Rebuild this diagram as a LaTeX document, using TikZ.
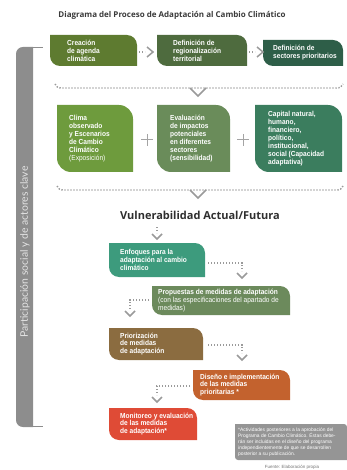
\documentclass[tikz,border=0pt]{standalone}
\usepackage{fontspec}
\setmainfont{Lato}
\newfontfamily\headfont{Open Sans}
\newfontfamily\condfont[FakeStretch=0.9]{Liberation Sans}
\newfontfamily\notefont{Liberation Sans}
\usetikzlibrary{calc}
\definecolor{cOne}{HTML}{5E7B30}
\definecolor{cTwo}{HTML}{4E6B3E}
\definecolor{cThree}{HTML}{2E5E48}
\definecolor{cA}{HTML}{6E9B3D}
\definecolor{cB}{HTML}{6A8C5A}
\definecolor{cC}{HTML}{3B7D5E}
\definecolor{cEnf}{HTML}{3D9B7D}
\definecolor{cProp}{HTML}{6C8A5C}
\definecolor{cPrio}{HTML}{8B6C40}
\definecolor{cDis}{HTML}{C3622E}
\definecolor{cMon}{HTML}{DF4B36}
\definecolor{barg}{HTML}{8D8D8D}
\definecolor{bartext}{HTML}{E4E4E4}
\definecolor{noteg}{HTML}{959595}
\definecolor{dotg}{HTML}{9A9A9A}
\definecolor{titlec}{HTML}{3A3A3A}
\newcommand{\leafbox}[7]{%
  \node[inner sep=0pt, outer sep=0pt, minimum width=#4pt, minimum height=#5pt, anchor=north west] (#1) at (#2,#3) {};
  \fill[#7] (#1.north west) -- ([xshift=-#6pt]#1.north east)
    .. controls ([xshift=-0.45*#6pt]#1.north east) and ([yshift=-0.45*#6pt]#1.north east) .. ([yshift=-#6pt]#1.north east)
    -- (#1.south east) -- ([xshift=#6pt]#1.south west)
    .. controls ([xshift=0.45*#6pt]#1.south west) and ([yshift=0.45*#6pt]#1.south west) .. ([yshift=#6pt]#1.south west)
    -- cycle;}
\tikzset{
  boxt/.style={anchor=west, inner sep=0pt, text=white, font=\condfont\bfseries\fontsize{7.3}{7.9}\selectfont, align=left},
  dotl/.style={draw=dotg, line width=1.4pt, dash pattern=on 1.4pt off 1.6pt},
  chev/.style={draw=dotg, line width=1.5pt, line join=miter},
  plusl/.style={draw=dotg!90, line width=1pt},
}
\begin{document}
\begin{tikzpicture}[x=1pt,y=-1pt]
\useasboundingbox (0,0) rectangle (347,470);
% title
\node[font=\headfont\bfseries\fontsize{8}{9}\selectfont, text=titlec] (title) at (172,15) {Diagrama del Proceso de Adaptación al Cambio Climático};
% side bar
\fill[barg] (33,47) -- (23,47) .. controls (19,47) and (16,50) .. (16,54) -- (16,420) .. controls (16,424) and (19,427) .. (23,427) -- (33,427) -- cycle;
\draw[barg, line width=0.8pt] (32,47.4) -- (43,47.4) (32,426.6) -- (43,426.6);
\node[rotate=90, text=bartext, font=\fontsize{10.4}{12}\selectfont] (bart) at (25,252) {Participación social y de actores clave};
% row 1
\leafbox{b1}{50}{35}{87}{31}{10}{cOne}
\node[boxt] (t1) at ([xshift=17pt]b1.west) {Creación\\de agenda\\climática};
\leafbox{b2}{157}{35}{90}{31}{10}{cTwo}
\node[boxt] (t2) at ([xshift=16pt]b2.west) {Definición de\\regionalización\\territorial};
\leafbox{b3}{263}{40}{80}{26}{10}{cThree}
\node[boxt] (t3) at ([xshift=10pt]b3.west) {Definición de\\sectores prioritarios};
\coordinate (r1a) at (139,52);
\draw[dotl] (r1a) -- ++(6,0);
\draw[chev] ($(r1a)+(8,-5)$) -- ++(6,5) -- ++(-6,5);
\coordinate (r1b) at (249,52);
\draw[dotl] (r1b) -- ++(6,0);
\draw[chev] ($(r1b)+(8,-5)$) -- ++(6,5) -- ++(-6,5);
% bracket 1
\coordinate (k1l) at (55,84);
\coordinate (k1r) at (343,84);
\draw[dotl] (k1l) .. controls (56,87) and (58,88) .. (62,88) -- (336,88) .. controls (340,88) and (342,87) .. (k1r);
\draw[chev] (190,88) -- (198,96) -- (206,88);
% row 2
\leafbox{bA}{57}{105}{76}{67}{14}{cA}
\node[boxt] (tA) at ([xshift=12pt]bA.west) {Clima\\observado\\y Escenarios\\de Cambio\\Climático\\\mdseries(Exposición)};
\leafbox{bB}{157}{105}{73}{67}{14}{cB}
\node[boxt] (tB) at ([xshift=13pt]bB.west) {Evaluación\\de impactos\\potenciales\\en diferentes\\sectores\\(sensibilidad)};
\leafbox{bC}{255}{105}{87}{67}{14}{cC}
\node[boxt] (tC) at ([xshift=13pt]bC.west) {Capital natural,\\humano,\\financiero,\\político,\\institucional,\\social (Capacidad\\adaptativa)};
\coordinate (pl1) at (147,140);
\draw[plusl] ($(pl1)+(-6,0)$) -- ++(12,0) ($(pl1)+(0,-6)$) -- ++(0,12);
\coordinate (pl2) at (243,140);
\draw[plusl] ($(pl2)+(-6,0)$) -- ++(12,0) ($(pl2)+(0,-6)$) -- ++(0,12);
% bracket 2
\coordinate (k2l) at (57,186);
\coordinate (k2r) at (343,186);
\draw[dotl] (k2l) .. controls (58,189) and (60,190) .. (64,190) -- (336,190) .. controls (340,190) and (342,189) .. (k2r);
\draw[chev] (190,190) -- (198,198) -- (206,190);
\node[font=\headfont\bfseries\fontsize{11}{13}\selectfont, text=black!82] (vul) at (200,215) {Vulnerabilidad Actual/Futura};
% flow
\coordinate (a1) at (157,227);
\draw[dotl] (a1) -- ++(0,6);
\draw[chev] ($(a1)+(-5,7)$) -- ++(5,5) -- ++(5,-5);
\leafbox{enf}{109}{243}{96}{34}{10}{cEnf}
\node[boxt] (tenf) at ([xshift=11pt]enf.west) {Enfoques para la\\adaptación al cambio\\climático};
\coordinate (a2) at (208,263);
\draw[dotl] (a2) -- (242,263) -- (242,271);
\draw[chev] (237,273) -- (242,278) -- (247,273);
\leafbox{prop}{152}{286}{138}{29}{10}{cProp}
\node[boxt] (tprop) at ([xshift=6pt]prop.west) {Propuestas de medidas de adaptación\\\mdseries(con las especificaciones del apartado de\\\mdseries medidas)};
\coordinate (a3) at (149,300);
\draw[dotl] (a3) -- (130,300) -- (130,309);
\draw[chev] (125,311) -- (130,316) -- (135,311);
\leafbox{prio}{109}{328}{94}{32}{10}{cPrio}
\node[boxt] (tprio) at ([xshift=11pt]prio.west) {Priorización\\de medidas\\de adaptación};
\coordinate (a4) at (208,345);
\draw[dotl] (a4) -- (242,345) -- (242,353);
\draw[chev] (237,355) -- (242,360) -- (247,355);
\leafbox{dis}{193}{370}{97}{30}{10}{cDis}
\node[boxt] (tdis) at ([xshift=7pt]dis.west) {Diseño e implementación\\de las medidas\\prioritarias *};
\coordinate (a5) at (190,386);
\draw[dotl] (a5) -- (157,386) -- (157,395);
\draw[chev] (152,397) -- (157,402) -- (162,397);
\leafbox{mon}{109}{408}{88}{32}{10}{cMon}
\node[boxt] (tmon) at ([xshift=11pt]mon.west) {Monitoreo y evaluación\\de las medidas\\de adaptación*};
% note
\leafbox{note}{235}{424}{112}{36}{3}{noteg}
\node[anchor=west, inner sep=0pt, text=white, align=left, font=\notefont\fontsize{4.9}{6}\selectfont] (tnote) at ([xshift=3pt]note.west) {*Actividades posteriores a la aprobación del\\Programa de Cambio Climático. Éstas debe-\\rán ser incluidas en el diseño del programa\\independientemente de que se desarrollen\\posterior a su publicación.};
\node[text=black!55, font=\notefont\fontsize{4.5}{5}\selectfont] (src) at (292,467) {Fuente: Elaboración propia};
\end{tikzpicture}
\end{document}
